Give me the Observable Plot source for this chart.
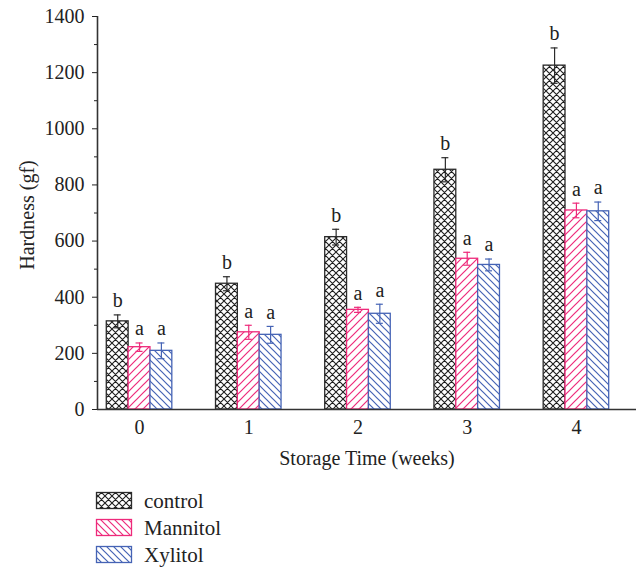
<!DOCTYPE html>
<html>
<head>
<meta charset="utf-8">
<script src="https://cdn.jsdelivr.net/npm/d3@7"></script>
<script src="https://cdn.jsdelivr.net/npm/@observablehq/plot@0.6"></script>
<style>
  body { margin: 0; background: #fff; }
  #chart svg { display: block; }
  #chart svg text { font-size: 20px !important; font-family: 'Liberation Serif', 'DejaVu Serif', serif !important; fill: #222; }
  #legend { display: block; }
</style>
</head>
<body>
<div id="chart"></div>
<svg id="legend" width="640" height="92"></svg>
<script>
const weeks = [0, 1, 2, 3, 4];
const seriesNames = ["control", "Mannitol", "Xylitol"];
const controlMean = [314, 448, 614, 854, 1225];
const controlErr = [23, 25, 28, 43, 63];
const mannitolMean = [222, 275, 355, 537, 709];
const mannitolErr = [15, 25, 9, 23, 26];
const xylitolMean = [209, 266, 341, 515, 706];
const xylitolErr = [28, 30, 34, 21, 33];
const controlLetters = ["b", "b", "b", "b", "b"];
const mannitolLetters = ["a", "a", "a", "a", "a"];
const xylitolLetters = ["a", "a", "a", "a", "a"];
const yTicks = [0, 200, 400, 600, 800, 1000, 1200, 1400];
const yMinorTicks = [100, 300, 500, 700, 900, 1100, 1300];

const colors = { control: "#2b2b2b", Mannitol: "#ee2a7b", Xylitol: "#4563b5" };
const patterns = { control: "url(#pat-control)", Mannitol: "url(#pat-mannitol)", Xylitol: "url(#pat-xylitol)" };
const offsets = { control: -0.2, Mannitol: 0, Xylitol: 0.2 };
const halfW = 0.1;
const capW = 0.032;

function build(name, means, errs, letters) {
  return weeks.map((w, i) => ({
    series: name, week: w, xc: w + offsets[name],
    mean: means[i], err: errs[i], letter: letters[i]
  }));
}
const groups = [
  build("control", controlMean, controlErr, controlLetters),
  build("Mannitol", mannitolMean, mannitolErr, mannitolLetters),
  build("Xylitol", xylitolMean, xylitolErr, xylitolLetters)
];

const font = "'Liberation Serif', 'DejaVu Serif', serif";
const marks = [];
for (const data of groups) {
  const name = data[0].series;
  const c = colors[name];
  marks.push(Plot.rect(data, {x1: d => d.xc - halfW, x2: d => d.xc + halfW, y1: 0, y2: "mean",
    fill: "#ffffff", stroke: "none"}));
  marks.push(Plot.rect(data, {x1: d => d.xc - halfW, x2: d => d.xc + halfW, y1: 0, y2: "mean",
    fill: patterns[name], stroke: c, strokeWidth: 1.3}));
  marks.push(Plot.ruleX(data, {x: "xc", y1: d => d.mean - d.err, y2: d => d.mean + d.err, stroke: c, strokeWidth: 1.2}));
  marks.push(Plot.ruleY(data, {y: d => d.mean + d.err, x1: d => d.xc - capW, x2: d => d.xc + capW, stroke: c, strokeWidth: 1.2}));
  marks.push(Plot.ruleY(data, {y: d => d.mean - d.err, x1: d => d.xc - capW, x2: d => d.xc + capW, stroke: c, strokeWidth: 1.2}));
  marks.push(Plot.text(data, {x: "xc", y: d => d.mean + d.err, text: "letter", dy: -14,
    fontSize: 20, fill: "#222", fontFamily: font}));
}

const plot = Plot.plot({
  width: 640,
  height: 475,
  marginLeft: 97,
  marginRight: 4,
  marginTop: 16,
  marginBottom: 66,
  style: { fontFamily: font, fontSize: "20px", color: "#222", background: "#fff" },
  x: { domain: [-0.385, 4.55] },
  y: { domain: [0, 1400] },
  marks: [
    ...marks,
    Plot.ruleY([0], {stroke: "#333", strokeWidth: 1.6}),
    Plot.ruleX([-0.385], {stroke: "#333", strokeWidth: 1.6}),
    Plot.axisY({ticks: yTicks, tickSize: 5, tickPadding: 8, label: null, fontSize: 20, tickFormat: d => String(d)}),
    Plot.axisY({ticks: yMinorTicks, tickSize: 3, tickFormat: null, text: null, label: null}),
    Plot.axisX({ticks: weeks, tickSize: 0, tickPadding: 10, label: null, fontSize: 20, tickFormat: d => String(d)}),
    Plot.text(["Storage Time (weeks)"], {frameAnchor: "bottom", lineAnchor: "middle", textAnchor: "middle", dy: 49, text: d => d, fontSize: 20, fill: "#222", fontFamily: font}),
    Plot.text(["Hardness (gf)"], {frameAnchor: "left", textAnchor: "middle", lineAnchor: "middle", dx: -70, dy: 2, rotate: -90, text: d => d, fontSize: 20, fill: "#222", fontFamily: font})
  ]
});

const defs = `
<defs>
  <pattern id="pat-control" patternUnits="userSpaceOnUse" width="7" height="7">
    <rect width="7" height="7" fill="#fff"/>
    <path d="M0,0 L7,7 M0,7 L7,0 M-1,1 L1,-1 M6,8 L8,6 M-1,6 L1,8 M6,-1 L8,1" stroke="#1e1e1e" stroke-width="1.1" fill="none"/>
  </pattern>
  <pattern id="pat-mannitol" patternUnits="userSpaceOnUse" width="8" height="8">
    <rect width="8" height="8" fill="#fff"/>
    <path d="M0,8 L8,0 M-1,1 L1,-1 M7,9 L9,7" stroke="#ee2a7b" stroke-width="1.2" fill="none"/>
  </pattern>
  <pattern id="pat-xylitol" patternUnits="userSpaceOnUse" width="7" height="7">
    <rect width="7" height="7" fill="#fff"/>
    <path d="M0,0 L7,7 M-1,6 L1,8 M6,-1 L8,1" stroke="#4563b5" stroke-width="1.2" fill="none"/>
  </pattern>
  <pattern id="pat-mannitol-leg" patternUnits="userSpaceOnUse" width="7" height="7">
    <rect width="7" height="7" fill="#fff"/>
    <path d="M0,0 L7,7 M-1,6 L1,8 M6,-1 L8,1" stroke="#ee2a7b" stroke-width="1.2" fill="none"/>
  </pattern>
</defs>`;
d3.select(plot).insert("g", ":first-child").html(defs);
document.getElementById("chart").appendChild(plot);

// Legend
const legendFills = { control: "url(#pat-control)", Mannitol: "url(#pat-mannitol-leg)", Xylitol: "url(#pat-xylitol)" };
const leg = d3.select("#legend");
seriesNames.forEach((name, i) => {
  const y0 = 17 + i * 27;
  leg.append("rect").attr("x", 96.5).attr("y", y0 + 0.5).attr("width", 35).attr("height", 16)
    .attr("fill", legendFills[name]).attr("stroke", colors[name]).attr("stroke-width", 1.3);
  leg.append("text").attr("x", 144).attr("y", y0 + 8.5).attr("dy", "0.35em")
    .attr("font-family", font).attr("font-size", 21).attr("fill", "#222").text(name);
});
</script>
</body>
</html>
